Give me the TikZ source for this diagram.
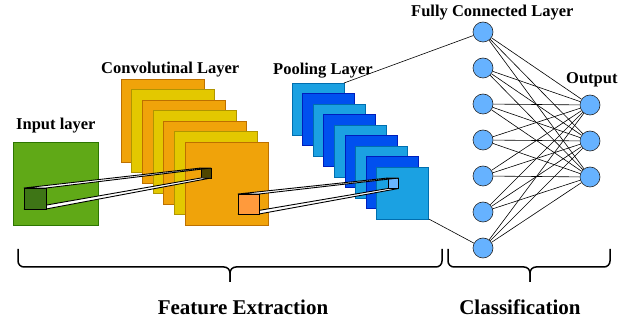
\documentclass[tikz,border=0pt]{standalone}
\usepackage{fontspec}
\setmainfont{Liberation Serif}
\usepackage{tikz}
\usetikzlibrary{calc}

\definecolor{inGreen}{HTML}{60A917}
\definecolor{inGreenD}{HTML}{2D7600}
\definecolor{convOrange}{HTML}{F0A30A}
\definecolor{convOrangeD}{HTML}{BD7000}
\definecolor{convYellow}{HTML}{E3C800}
\definecolor{convYellowD}{HTML}{B09500}
\definecolor{poolLight}{HTML}{1BA1E2}
\definecolor{poolLightD}{HTML}{006EAF}
\definecolor{poolDark}{HTML}{0050EF}
\definecolor{poolDarkD}{HTML}{001DBC}
\definecolor{nodeBlue}{HTML}{66B2FF}
\definecolor{kerGreen}{HTML}{3E7516}
\definecolor{kerOlive}{HTML}{4F4600}
\definecolor{kerOrange}{HTML}{FF9A3C}
\definecolor{kerBlue}{HTML}{6AB4FF}

\begin{document}
\begin{tikzpicture}[x=1pt, y=-1pt,
    layername/.style={font=\fontsize{16.5}{18}\selectfont\bfseries, anchor=base west, inner sep=0pt},
    partname/.style={font=\fontsize{21}{24}\selectfont\bfseries, anchor=base, inner sep=0pt},
    fmap/.style={draw, line width=0.8pt, anchor=north west, inner sep=0pt, outer sep=0pt},
    kernelbox/.style={anchor=north west, inner sep=0pt, outer sep=0pt},
    face/.style={draw, fill=white, line width=0.9pt, line join=round},
    neuron/.style={circle, draw=black!85, fill=nodeBlue, minimum size=20pt, inner sep=0pt, line width=0.6pt},
    link/.style={line width=0.6pt},
    brace/.style={line width=1.5pt, rounded corners=6pt}]

  \useasboundingbox (0,0) rectangle (619,320);

  % Input layer
  \node[fmap, fill=inGreen, draw=inGreenD, minimum width=85pt, minimum height=83pt] (Input) at (13,142) {};

  % Convolution maps, back to front
  \foreach \i in {1,...,7} {
    \pgfmathsetmacro{\cx}{121+10.67*(\i-1)}
    \pgfmathsetmacro{\cy}{79+10.5*(\i-1)}
    \ifodd\i \def\mapfill{convOrange}\def\mapdraw{convOrangeD}\else\def\mapfill{convYellow}\def\mapdraw{convYellowD}\fi
    \node[fmap, fill=\mapfill, draw=\mapdraw, minimum size=83pt] (Conv\i) at (\cx,\cy) {};
  }

  % Pooling maps, back to front
  \foreach \i in {1,...,9} {
    \pgfmathsetmacro{\px}{292+10.6*(\i-1)}
    \pgfmathsetmacro{\py}{83+10.5*(\i-1)}
    \ifodd\i \def\mapfill{poolLight}\def\mapdraw{poolLightD}\else\def\mapfill{poolDark}\def\mapdraw{poolDarkD}\fi
    \node[fmap, fill=\mapfill, draw=\mapdraw, minimum size=52pt] (Pool\i) at (\px,\py) {};
  }

  % Kernel from input to convolution
  \path node[kernelbox, minimum width=22pt, minimum height=21pt] (K1) at (24,188) {};
  \node[fmap, fill=kerOlive, draw=black, minimum size=10pt] (K1b) at (201,168) {};
  \draw[face] (K1.north west) -- (K1.north east) -- (K1b.north east) -- (K1b.north west) -- cycle;
  \draw[face] (K1.south west) -- (K1.south east) -- (K1b.south east) -- (K1b.south west) -- cycle;
  \draw[fill=kerGreen, line width=0.8pt] (K1.north west) rectangle (K1.south east);

  % Kernel from convolution to pooling
  \path node[kernelbox, minimum width=21pt, minimum height=20pt] (K2) at (238,194) {};
  \node[fmap, fill=kerBlue, draw=black, minimum size=10.5pt] (K2b) at (388,178) {};
  \draw[face] (K2.north west) -- (K2.north east) -- (K2b.north east) -- (K2b.north west) -- cycle;
  \draw[face] (K2.south west) -- (K2.south east) -- (K2b.south east) -- (K2b.south west) -- cycle;
  \draw[fill=kerOrange, line width=0.8pt] (K2.north west) rectangle (K2.south east);

  % Fully connected part
  \foreach \i in {1,...,7}
    \node[neuron] (FC\i) at (483,{32+36*(\i-1)}) {};
  \foreach \j in {1,2,3}
    \node[neuron] (Out\j) at (590,{105+36*(\j-1)}) {};
  \foreach \i in {1,...,7}
    \foreach \j in {1,2,3}
      \draw[link] (FC\i) -- (Out\j);

  \draw[link] (Pool1.north east) -- (FC1);
  \draw[link] (Pool9.south east) -- (FC7);

  % Names
  \node[layername] (InputName) at (16,130) {Input layer};
  \node[layername] (ConvName) at (101,74) {Convolutinal Layer};
  \node[layername] (PoolName) at (273,75) {Pooling Layer};
  \node[layername] (FCName) at (411,17) {Fully Connected Layer};
  \node[layername] (OutName) at (566,84) {Output};

  % Braces
  \coordinate (FETip) at (230,282);
  \coordinate (ClsTip) at (530,282);
  \draw[brace] (18,249) |- (FETip |- 0,267) -- (FETip);
  \draw[brace] (442,249) |- (FETip |- 0,267) -- (FETip);
  \draw[brace] (448,249) |- (ClsTip |- 0,267) -- (ClsTip);
  \draw[brace] (610,249) |- (ClsTip |- 0,267) -- (ClsTip);

  \node[partname] (FEName) at (243,315) {Feature Extraction};
  \node[partname] (ClsName) at (520,315) {Classification};

\end{tikzpicture}
\end{document}
